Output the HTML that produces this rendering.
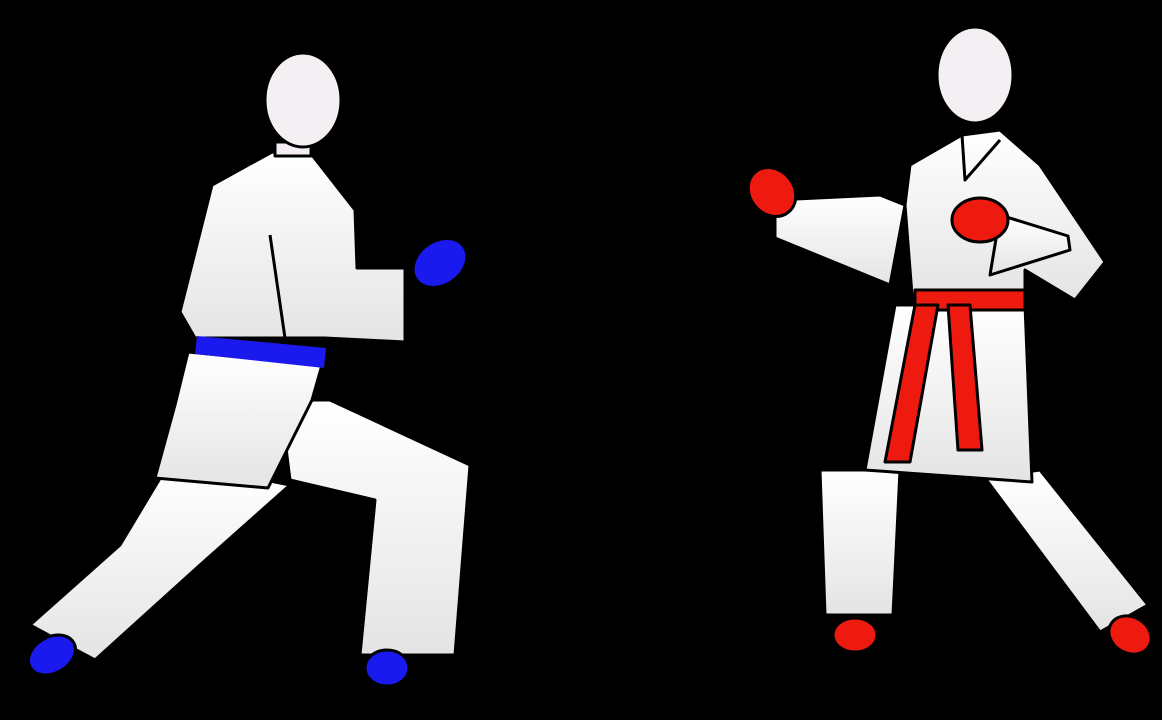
<!DOCTYPE html>
<html><head><meta charset="utf-8"><style>
html,body{margin:0;padding:0;background:#000;width:1162px;height:720px;overflow:hidden}
svg{display:block}
</style></head><body>
<svg width="1162" height="720" viewBox="0 0 1162 720">
<defs>
<linearGradient id="w" x1="0" y1="0" x2="0" y2="1"><stop offset="0" stop-color="#ffffff"/><stop offset="1" stop-color="#e4e4e4"/></linearGradient>
</defs>
<rect width="1162" height="720" fill="#000"/>
<g stroke="#000" stroke-width="3" stroke-linejoin="round" fill="url(#w)">
  <polygon points="165,470 265,480 290,485 200,565 95,660 30,625 120,545"/>
  <polygon points="280,400 330,400 470,465 455,655 360,655 375,500 290,480"/>
  <polygon points="188,352 322,365 312,400 268,488 155,478 175,405"/>
  <polygon points="212,185 272,152 312,155 355,210 357,268 405,268 405,342 325,338 195,338 180,312"/>
  <line x1="270" y1="235" x2="285" y2="338"/>
  <polygon fill="#1a1aee" stroke="none" points="197,336 326,348 324,368 195,354"/>
  <rect x="275" y="142" width="36" height="14" fill="#f4eef4"/>
  <ellipse cx="303" cy="100" rx="38" ry="47" fill="#f3eff3"/>
  <ellipse cx="440" cy="263" rx="29" ry="22" transform="rotate(-35 440 263)" fill="#1a1aee"/>
  <ellipse cx="52" cy="655" rx="25" ry="18" transform="rotate(-30 52 655)" fill="#1a1aee"/>
  <ellipse cx="387" cy="668" rx="22" ry="18" fill="#1a1aee"/>
</g>
<g stroke="#000" stroke-width="3" stroke-linejoin="round" fill="url(#w)">
  <polygon points="820,470 900,470 893,615 825,615"/>
  <polygon points="985,478 1040,470 1148,605 1100,632"/>
  <polygon points="775,200 880,195 905,205 890,285 775,238"/>
  <polygon points="910,165 962,135 1000,130 1040,165 1105,262 1075,300 1025,270 1025,295 912,295 905,205"/>
  <polyline fill="none" points="962,135 965,180 1000,140"/>
  <polygon points="895,305 1025,305 1032,482 865,470"/>
  <polygon points="1000,215 1068,236 1070,250 990,275"/>
  <polygon fill="#ee1a10" points="915,290 1025,290 1025,310 915,310"/>
  <polygon fill="#ee1a10" points="915,305 938,305 910,462 885,462"/>
  <polygon fill="#ee1a10" points="948,305 970,305 982,450 958,450"/>
  <ellipse cx="975" cy="75" rx="38" ry="48" fill="#f3eff3"/>
  <ellipse cx="772" cy="192" rx="22" ry="26" transform="rotate(-40 772 192)" fill="#ee1a10"/>
  <ellipse cx="980" cy="220" rx="28" ry="22" fill="#ee1a10"/>
  <ellipse cx="855" cy="635" rx="22" ry="17" fill="#ee1a10"/>
  <ellipse cx="1130" cy="635" rx="22" ry="18" transform="rotate(30 1130 635)" fill="#ee1a10"/>
</g>
</svg>
</body></html>
